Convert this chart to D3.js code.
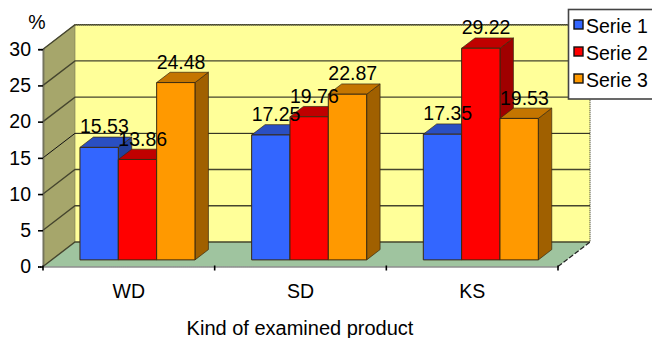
<!DOCTYPE html>
<html>
<head>
<meta charset="utf-8">
<script src="https://cdn.jsdelivr.net/npm/d3@7/dist/d3.min.js"></script>
<style>
  html, body { margin: 0; padding: 0; background: #fff; }
  svg { display: block; }
  text { font-family: "Liberation Sans", Arial, sans-serif; fill: #000; }
</style>
</head>
<body>
<svg id="chart" width="652" height="338"></svg>
<script>
// Chart data
const categories = ["WD", "SD", "KS"];
const seriesNames = ["Serie 1", "Serie 2", "Serie 3"];
const serie1 = [15.53, 17.25, 17.35];
const serie2 = [13.86, 19.76, 29.22];
const serie3 = [24.48, 22.87, 19.53];
const seriesValues = [serie1, serie2, serie3];
const yTicks = [0, 5, 10, 15, 20, 25, 30];
const xTitle = "Kind of examined product";
const yTitle = "%";

// Front, top and side shades of each series
const frontColors = ["#3366ff", "#ff0000", "#ff9900"];
const topColors = ["#2a4fc2", "#c00000", "#c47500"];
const sideColors = ["#23429e", "#a00000", "#a06000"];

const svg = d3.select("#chart");
const FONT = 19.5;

// Scales on the front plane, plus an oblique offset for depth
const x = d3.scaleBand().domain(categories).range([43, 558]).paddingInner(0.33).paddingOuter(0.165);
const xInner = d3.scaleBand().domain(d3.range(seriesNames.length)).range([0, x.bandwidth()]);
const y = d3.scaleLinear().domain([0, 30]).range([266.5, 49.2]);
const depthX = d3.scaleLinear().domain([0, 1]).range([0, 32]);
const depthY = d3.scaleLinear().domain([0, 1]).range([0, -24.5]);
const project = (px, v, d) => [px + depthX(d), y(v) + depthY(d)];
const poly = pts => pts.map(p => p.join(",")).join(" ");

const xMin = x.range()[0], xMax = x.range()[1];
const barFront = 0.27, barBack = 0.69;

// Walls and floor
svg.append("polygon").attr("fill", "#ffff99")
  .attr("points", poly([project(xMin, 0, 1), project(xMax, 0, 1), project(xMax, 30, 1), project(xMin, 30, 1)]));
svg.append("polygon").attr("fill", "#a6a66b").attr("stroke", "#77774d").attr("stroke-width", 0.6)
  .attr("points", poly([project(xMin, 0, 0), project(xMin, 0, 1), project(xMin, 30, 1), project(xMin, 30, 0)]));
svg.append("polygon").attr("fill", "#9fc49f")
  .attr("points", poly([project(xMin, 0, 0), project(xMax, 0, 0), project(xMax, 0, 1), project(xMin, 0, 1)]));

// Gridlines running along the left wall and across the back wall
yTicks.forEach(t => {
  const a = project(xMin, t, 0), b = project(xMin, t, 1), c = project(xMax, t, 1);
  const col = t === 15 ? "#111" : "#45452e";
  svg.append("path").attr("fill", "none").attr("stroke", col)
    .attr("stroke-width", t === 15 ? 1 : 1.4)
    .attr("d", d3.line()([a, b, c]));
});

// Dotted right and top edges of the back wall
svg.append("path").attr("fill", "none").attr("stroke", "#5c5c44").attr("stroke-dasharray", "1 1")
  .attr("stroke-width", 1.4)
  .attr("d", d3.line()([project(xMin, 30, 1), project(xMax, 30, 1), project(xMax, 0, 1)]));

// Dashed floor edge on the right
svg.append("path").attr("fill", "none").attr("stroke", "#222").attr("stroke-dasharray", "5 2")
  .attr("stroke-width", 1.2)
  .attr("d", d3.line()([project(xMax, 0, 0), project(xMax, 0, 1)]));

// Value axis with dotted minor ticks
const yAxis = d3.axisLeft(y).tickValues(yTicks).tickSize(5).tickPadding(7).tickFormat(d3.format("d"));
const gy = svg.append("g").attr("transform", `translate(${xMin},0)`).call(yAxis);
gy.select(".domain").attr("stroke", "#555").attr("stroke-width", 2).attr("stroke-dasharray", "1 1");
gy.selectAll(".tick line").attr("stroke", "#000").attr("stroke-width", 1.6);
gy.selectAll(".tick text").attr("font-size", FONT).style("font-family", '"Liberation Sans", Arial, sans-serif').attr("fill", "#000");

// Category axis: labels under each band, ticks on the band boundaries
const xAxis = d3.axisBottom(x).tickSize(0).tickPadding(18);
const gx = svg.append("g").attr("transform", `translate(0,${y(0)})`).call(xAxis);
gx.select(".domain").attr("stroke", "#555").attr("stroke-width", 2).attr("stroke-dasharray", "1 1");
gx.selectAll(".tick text").attr("font-size", FONT).style("font-family", '"Liberation Sans", Arial, sans-serif').attr("fill", "#000");
categories.forEach((c, i) => {
  const bx = xMin + x.step() * i;
  svg.append("line").attr("x1", bx).attr("x2", bx).attr("y1", y(0) - 1).attr("y2", y(0) + 4)
    .attr("stroke", "#000").attr("stroke-width", 1.6);
});
svg.append("line").attr("x1", xMax).attr("x2", xMax).attr("y1", y(0) - 1).attr("y2", y(0) + 4)
  .attr("stroke", "#000").attr("stroke-width", 1.6);

// 3D bars
categories.forEach((cat, ci) => {
  seriesValues.forEach((vals, si) => {
    const v = vals[ci];
    const x0 = x(cat) + xInner(si), x1 = x0 + xInner.bandwidth();
    const g = svg.append("g").attr("stroke", "#3a2a10").attr("stroke-width", 1).attr("stroke-linejoin", "round");
    g.append("polygon").attr("fill", sideColors[si]).attr("stroke-width", 0.7)
      .attr("points", poly([project(x1, 0, barFront), project(x1, 0, barBack), project(x1, v, barBack), project(x1, v, barFront)]));
    g.append("polygon").attr("fill", topColors[si]).attr("stroke-width", 0.7)
      .attr("points", poly([project(x0, v, barFront), project(x1, v, barFront), project(x1, v, barBack), project(x0, v, barBack)]));
    g.append("polygon").attr("fill", frontColors[si])
      .attr("points", poly([project(x0, 0, barFront), project(x1, 0, barFront), project(x1, v, barFront), project(x0, v, barFront)]));
  });
});

// Value labels above the bars
categories.forEach((cat, ci) => {
  seriesValues.forEach((vals, si) => {
    const v = vals[ci];
    const cx = x(cat) + xInner(si) + xInner.bandwidth() / 2;
    const p = project(cx, v, 0.45);
    svg.append("text").attr("x", p[0] - 0.5).attr("y", p[1] - 9.5)
      .attr("text-anchor", "middle").attr("font-size", FONT).text(v.toFixed(2));
  });
});

// Axis titles
svg.append("text").attr("x", 37).attr("y", 29).attr("text-anchor", "middle").attr("font-size", FONT).text(yTitle);
svg.append("text").attr("x", 300).attr("y", 335).attr("text-anchor", "middle").attr("font-size", 20).text(xTitle);

// Legend
const legend = svg.append("g");
legend.append("rect").attr("x", 568.5).attr("y", 9.5).attr("width", 90).attr("height", 89.5)
  .attr("fill", "#fff").attr("stroke", "#444").attr("stroke-width", 1.6);
seriesNames.forEach((name, i) => {
  const top = 20 + i * 27;
  legend.append("rect").attr("x", 574).attr("y", top).attr("width", 9).attr("height", 9)
    .attr("fill", frontColors[i]).attr("stroke", "#111").attr("stroke-width", 1.4);
  legend.append("text").attr("x", 586).attr("y", top + 13).attr("font-size", FONT).text(name);
});
</script>
</body>
</html>
